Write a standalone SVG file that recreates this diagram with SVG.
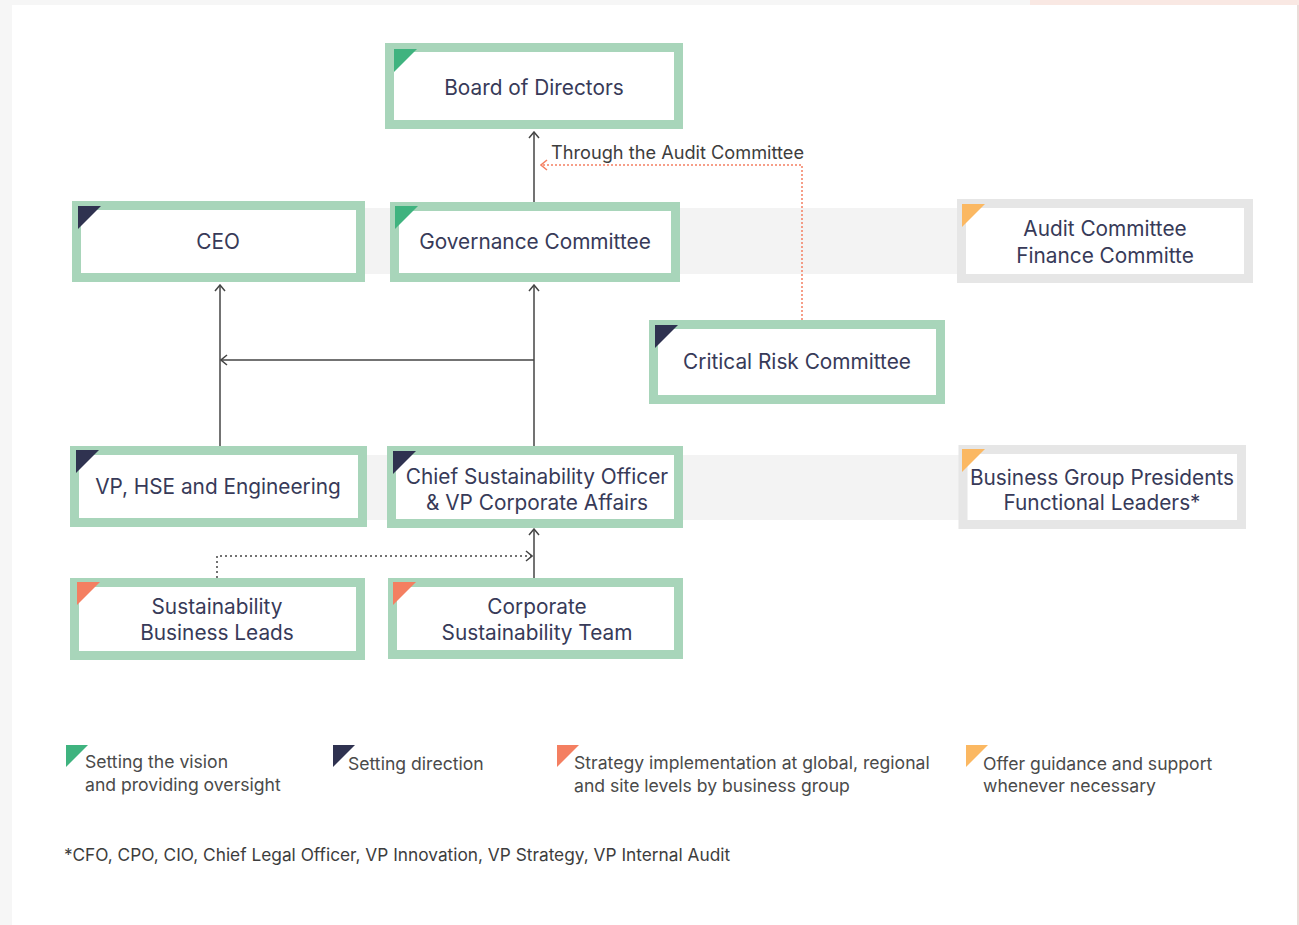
<svg xmlns="http://www.w3.org/2000/svg" width="1299" height="925" viewBox="0 0 1299 925">
  <defs>
    <style>
      .node-g { fill: #ffffff; stroke: #a8d5ba; stroke-width: 9; }
      .node-x { fill: #ffffff; stroke: #e6e6e6; stroke-width: 9; }
      .band { fill: #f3f3f3; }
      .lbl { font-family: Inter, "Noto Sans", "Liberation Sans", sans-serif; font-size: 20.8px; fill: #373a58; text-anchor: middle; }
      .leg { font-family: Inter, "Noto Sans", "Liberation Sans", sans-serif; font-size: 17.6px; fill: #4a4a4a; }
      .note { font-family: Inter, "Noto Sans", "Liberation Sans", sans-serif; font-size: 17.3px; fill: #3d3d3d; }
      .thru { font-family: Inter, "Noto Sans", "Liberation Sans", sans-serif; font-size: 18.2px; fill: #3d3d3d; }
      .conn { fill: none; stroke: #444444; stroke-width: 1.5; }
      .dot-dark { fill: none; stroke: #444444; stroke-width: 1.5; stroke-dasharray: 2 3; }
      .dot-red { fill: none; stroke: #f47f61; stroke-width: 1.5; stroke-dasharray: 2 2; }
      .t-green { fill: #3fb37f; }
      .t-navy { fill: #2f3250; }
      .t-red { fill: #f47f61; }
      .t-yellow { fill: #fbb862; }
    </style>
    <marker id="arr" viewBox="0 0 12 12" refX="11" refY="6" markerWidth="12" markerHeight="12" markerUnits="userSpaceOnUse" orient="auto">
      <path d="M5,1 L11,6 L5,11" fill="none" stroke="#444444" stroke-width="1.5"/>
    </marker>
    <marker id="arr-red" viewBox="0 0 12 12" refX="11" refY="6" markerWidth="12" markerHeight="12" markerUnits="userSpaceOnUse" orient="auto">
      <path d="M5,1 L11,6 L5,11" fill="none" stroke="#f47f61" stroke-width="1.5"/>
    </marker>
  </defs>

  <!-- page -->
  <rect x="0" y="0" width="1299" height="925" fill="#f6f6f6"/>
  <rect x="1030" y="0" width="269" height="6" fill="#f9e8e3"/>
  <rect x="12" y="5" width="1285" height="920" fill="#ffffff"/>
  <rect x="1297" y="5" width="2" height="920" fill="#eadcd8"/>

  <!-- bands -->
  <rect class="band" x="365" y="208" width="594" height="66"/>
  <rect class="band" x="367" y="455" width="594" height="65"/>

  <!-- connectors -->
  <g id="connectors">
    <line class="conn" x1="534" y1="202" x2="534" y2="132" marker-end="url(#arr)"/>
    <polyline class="dot-red" points="802,320 802,165 541,165" marker-end="url(#arr-red)"/>
    <line class="conn" x1="220" y1="446" x2="220" y2="285" marker-end="url(#arr)"/>
    <line class="conn" x1="534" y1="446" x2="534" y2="285" marker-end="url(#arr)"/>
    <line class="conn" x1="534" y1="360" x2="221" y2="360" marker-end="url(#arr)"/>
    <line class="conn" x1="534" y1="578" x2="534" y2="529" marker-end="url(#arr)"/>
    <polyline class="dot-dark" points="217,578 217,556 532,556" marker-end="url(#arr)"/>
  </g>

  <!-- nodes -->
  <g id="board">
    <rect class="node-g" x="389.5" y="47.5" width="289" height="77"/>
    <polygon class="t-green" points="394,49 417,49 394,72"/>
    <text class="lbl" x="534" y="95">Board of Directors</text>
  </g>
  <g id="ceo">
    <rect class="node-g" x="76.5" y="205.5" width="284" height="72"/>
    <polygon class="t-navy" points="78,206 101,206 78,229"/>
    <text class="lbl" x="218" y="249">CEO</text>
  </g>
  <g id="governance">
    <rect class="node-g" x="394.5" y="206.5" width="281" height="71"/>
    <polygon class="t-green" points="395,206 418,206 395,229"/>
    <text class="lbl" x="535" y="249">Governance Committee</text>
  </g>
  <g id="audit">
    <rect class="node-x" x="961.5" y="203.5" width="287" height="75"/>
    <polygon class="t-yellow" points="962,204 985,204 962,227"/>
    <text class="lbl" x="1105" y="236">Audit Committee</text>
    <text class="lbl" x="1105" y="263">Finance Committe</text>
  </g>
  <g id="critical-risk">
    <rect class="node-g" x="653.5" y="324.5" width="287" height="75"/>
    <polygon class="t-navy" points="655,325 678,325 655,348"/>
    <text class="lbl" x="797" y="369">Critical Risk Committee</text>
  </g>
  <g id="vp-hse">
    <rect class="node-g" x="74.5" y="450.5" width="288" height="72"/>
    <polygon class="t-navy" points="76,450 99,450 76,473"/>
    <text class="lbl" x="218" y="494">VP, HSE and Engineering</text>
  </g>
  <g id="cso">
    <rect class="node-g" x="391.5" y="450.5" width="287" height="73"/>
    <polygon class="t-navy" points="393,451 416,451 393,474"/>
    <text class="lbl" x="537" y="484">Chief Sustainability Officer</text>
    <text class="lbl" x="537" y="510">&amp; VP Corporate Affairs</text>
  </g>
  <g id="bg-presidents">
    <rect class="node-x" x="963" y="449.5" width="278.5" height="75"/>
    <polygon class="t-yellow" points="962,449 985,449 962,472"/>
    <text class="lbl" x="1102" y="485">Business Group Presidents</text>
    <text class="lbl" x="1102" y="510">Functional Leaders*</text>
  </g>
  <g id="sust-leads">
    <rect class="node-g" x="74.5" y="582.5" width="286" height="73"/>
    <polygon class="t-red" points="77,582 100,582 77,605"/>
    <text class="lbl" x="217" y="614">Sustainability</text>
    <text class="lbl" x="217" y="640">Business Leads</text>
  </g>
  <g id="corp-team">
    <rect class="node-g" x="392.5" y="582.5" width="286" height="72"/>
    <polygon class="t-red" points="393,582 416,582 393,605"/>
    <text class="lbl" x="537" y="614">Corporate</text>
    <text class="lbl" x="537" y="640">Sustainability Team</text>
  </g>

  <!-- labels -->
  <text class="thru" x="551" y="159">Through the Audit Committee</text>

  <!-- legend -->
  <g id="legend">
    <polygon class="t-green" points="66,745 88,745 66,767"/>
    <text class="leg" x="85" y="768">Setting the vision</text>
    <text class="leg" x="85" y="791">and providing oversight</text>
    <polygon class="t-navy" points="333,745 355,745 333,767"/>
    <text class="leg" x="348" y="770">Setting direction</text>
    <polygon class="t-red" points="557,745 579,745 557,767"/>
    <text class="leg" x="574" y="769">Strategy implementation at global, regional</text>
    <text class="leg" x="574" y="792">and site levels by business group</text>
    <polygon class="t-yellow" points="966,745 988,745 966,767"/>
    <text class="leg" x="983" y="770">Offer guidance and support</text>
    <text class="leg" x="983" y="792">whenever necessary</text>
  </g>
  <text class="note" x="64" y="861">*CFO, CPO, CIO, Chief Legal Officer, VP Innovation, VP Strategy, VP Internal Audit</text>
</svg>
